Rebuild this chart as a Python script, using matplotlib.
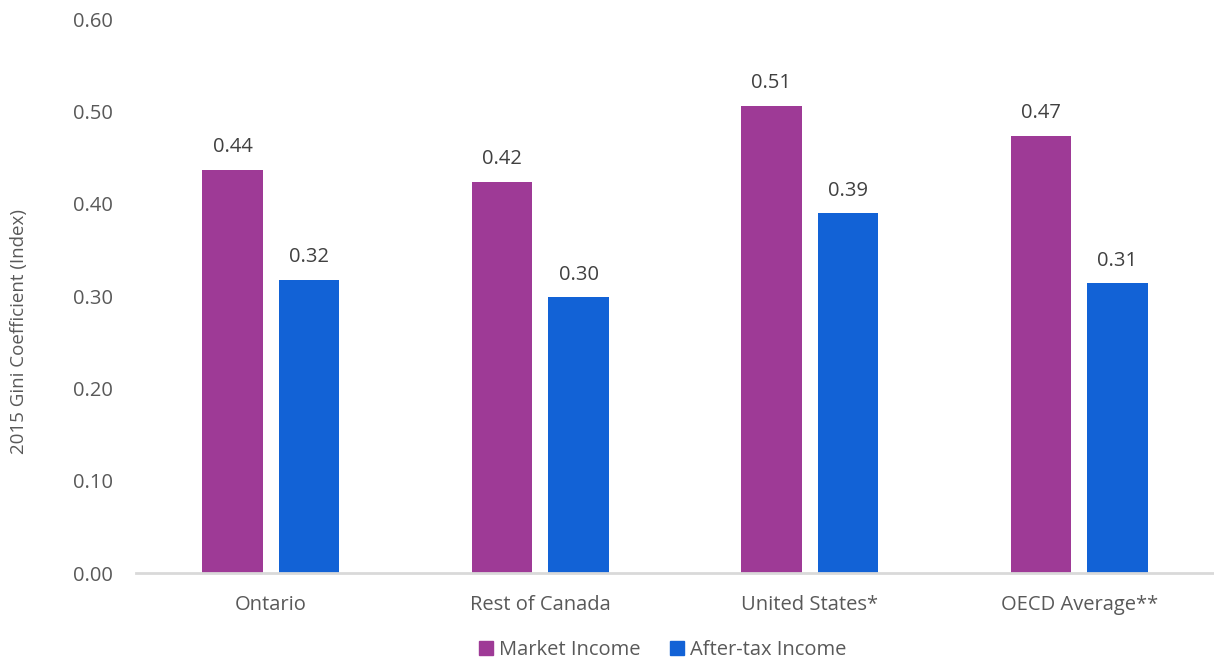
import numpy as np
import matplotlib
matplotlib.use("Agg")
import matplotlib.pyplot as plt
from matplotlib.patches import Patch

# Gini coefficients, 2015
regions = ["Ontario", "Rest of Canada", "United States*", "OECD Average**"]
market_income = [0.437, 0.424, 0.506, 0.474]
after_tax_income = [0.318, 0.299, 0.390, 0.314]
series_names = ["Market Income", "After-tax Income"]
y_ticks = [0.0, 0.1, 0.2, 0.3, 0.4, 0.5, 0.6]

PURPLE = "#9E3A96"
BLUE = "#1262D6"
TEXT = "#595959"

plt.rcParams["font.family"] = ["Open Sans", "DejaVu Sans"]

fig = plt.figure(figsize=(12.14, 6.63), dpi=100)
ax = fig.add_axes([0.112, 0.1357, 0.888, 0.8353])

x = np.arange(len(regions))
w = 0.223
off = 0.142
bars_m = ax.bar(x - off, market_income, w, color=PURPLE)
bars_a = ax.bar(x + off, after_tax_income, w, color=BLUE)

for bars in (bars_m, bars_a):
    for b in bars:
        v = b.get_height()
        ax.annotate(f"{v:.2f}", (b.get_x() + b.get_width() / 2, v),
                    xytext=(0, 9), textcoords="offset points",
                    ha="center", va="bottom", fontsize=14.5, color="#404040")

ax.set_xlim(-0.5, len(regions) - 0.5)
ax.set_ylim(0, 0.6)
ax.set_yticks(y_ticks)
ax.set_yticklabels([f"{t:.2f}" for t in y_ticks])
ax.set_xticks(x)
ax.set_xticklabels(regions)
ax.tick_params(axis="both", length=0, labelsize=14.5, labelcolor=TEXT)
ax.tick_params(axis="y", pad=16.5)
ax.tick_params(axis="x", pad=16)

for s in ("top", "right", "left"):
    ax.spines[s].set_visible(False)
ax.spines["bottom"].set_color("#D9D9D9")
ax.spines["bottom"].set_linewidth(2)

fig.text(0.016, 0.5, "2015 Gini Coefficient (Index)", rotation=90,
         ha="center", va="center", fontsize=13.5, color=TEXT)

handles = [Patch(color=PURPLE), Patch(color=BLUE)]
fig.legend(handles, series_names, loc="center", bbox_to_anchor=(0.546, 0.02),
           ncol=2, frameon=False, fontsize=14.5, labelcolor=TEXT,
           handlelength=0.7, handleheight=0.7, handletextpad=0.3,
           columnspacing=1.45)

fig.savefig("out.png", dpi=100)
